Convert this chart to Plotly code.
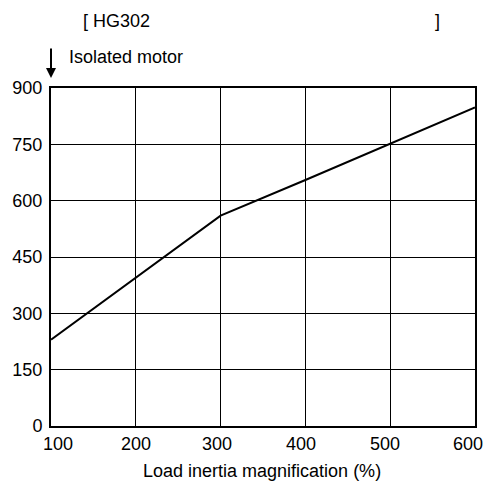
import plotly.graph_objects as go

load_inertia = [100, 200, 300, 400, 500, 600]
values = [230, 395, 560, 655, 752, 848]
x_ticks = [100, 200, 300, 400, 500, 600]
x_tick_labels = ["100", "200", "300", "400", "500", "600"]
y_ticks = [0, 150, 300, 450, 600, 750, 900]

# styling: horizontal nudges of the x tick labels (pixels)
x_label_shift = [6.5, 0, -3.5, -4.5, -5.5, -7.5]

FONT = "Liberation Sans, Arial, sans-serif"
FS = 18
W, H = 488, 486

# plot area in page px: x 51..475, y 88..426
L, R, T, B = 51, 475, 88, 426
def px(p):
    return (p - L) / (R - L)
def py(p):
    return (B - p) / (B - T)

fig = go.Figure()
fig.add_trace(go.Scatter(x=load_inertia, y=values, mode="lines",
                         line=dict(color="black", width=2), showlegend=False))

fig.update_layout(
    width=W, height=H,
    margin=dict(l=L, r=W - R, t=T, b=H - B, autoexpand=False),
    paper_bgcolor="white", plot_bgcolor="white",
    font=dict(family=FONT, size=FS, color="black"),
    xaxis=dict(range=[100, 600], tickvals=x_ticks, showgrid=True,
               gridcolor="black", gridwidth=1, zeroline=False,
               showline=True, linecolor="black", linewidth=2, mirror=True,
               ticks="", showticklabels=False, automargin=False),
    yaxis=dict(range=[0, 900], tickvals=y_ticks, showgrid=True,
               gridcolor="black", gridwidth=1, zeroline=False,
               showline=True, linecolor="black", linewidth=2, mirror=True,
               ticks="", ticklabelstandoff=3, automargin=False),
)

for xv, lab, sh in zip(x_ticks, x_tick_labels, x_label_shift):
    fig.add_annotation(text=lab, xref="x", yref="paper", x=xv, y=py(443.5),
                       xshift=sh, xanchor="center", yanchor="middle",
                       showarrow=False, font=dict(size=FS))

fig.add_annotation(text="Load inertia magnification (%)", xref="paper", yref="paper",
                   x=px(261.5), y=py(471), xanchor="center", yanchor="middle",
                   showarrow=False, font=dict(size=FS))
fig.add_annotation(text="[ HG302", xref="paper", yref="paper",
                   x=px(81), y=py(21), xanchor="left", yanchor="middle",
                   showarrow=False, font=dict(size=FS))
fig.add_annotation(text="]", xref="paper", yref="paper",
                   x=px(433), y=py(21), xanchor="left", yanchor="middle",
                   showarrow=False, font=dict(size=FS))
fig.add_annotation(text="Isolated motor", xref="paper", yref="paper",
                   x=px(67), y=py(57), xanchor="left", yanchor="middle",
                   showarrow=False, font=dict(size=FS))
fig.add_annotation(text="", xref="x", yref="paper", x=100, y=py(78),
                   ax=0, ay=-31, showarrow=True, arrowhead=2, arrowsize=1,
                   arrowwidth=2, arrowcolor="black")

fig.write_html("out.html",
               config={"displayModeBar": False},
               post_script="document.body.style.margin='0';"
                           "document.body.style.overflow='hidden';")
